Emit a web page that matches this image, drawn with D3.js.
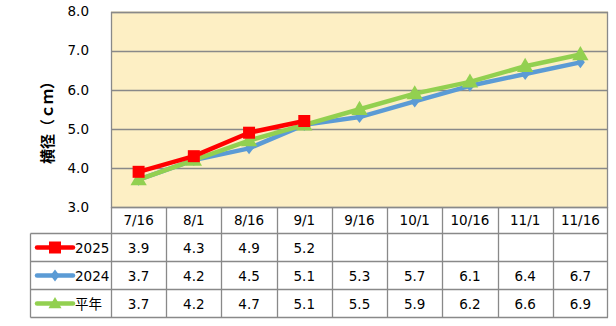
<!DOCTYPE html>
<html>
<head>
<meta charset="utf-8">
<script src="https://cdn.jsdelivr.net/npm/d3@7"></script>
<style>
  html, body { margin: 0; padding: 0; background: #ffffff; }
  svg { display: block; }
  text { font-family: "DejaVu Sans", "Noto Sans CJK JP", sans-serif; }
</style>
</head>
<body>
<svg id="chart" width="616" height="326"></svg>
<script>
// Fruit transverse diameter (cm) by survey date
const dates = ["7/16", "8/1", "8/16", "9/1", "9/16", "10/1", "10/16", "11/1", "11/16"];
const values2025 = [3.9, 4.3, 4.9, 5.2, null, null, null, null, null];
const values2024 = [3.7, 4.2, 4.5, 5.1, 5.3, 5.7, 6.1, 6.4, 6.7];
const valuesAvg  = [3.7, 4.2, 4.7, 5.1, 5.5, 5.9, 6.2, 6.6, 6.9];
const seriesNames = ["2025", "2024", "平年"];
const yTicks = [3.0, 4.0, 5.0, 6.0, 7.0, 8.0];

const series = [
  { name: seriesNames[1], values: values2024, color: "#5B9BD5", marker: "diamond" },
  { name: seriesNames[2], values: valuesAvg,  color: "#92D050", marker: "triangle" },
  { name: seriesNames[0], values: values2025, color: "#FF0000", marker: "square" }
];
const tableOrder = [series[2], series[0], series[1]];

const svg = d3.select("#chart");
const plot = { left: 111, right: 608, top: 11.5, bottom: 207 };
const rowTops = [207, 233.5, 261.5, 289.5, 317.5];
const legendLeft = 30.5;
const gridColor = "#898989";

const x = d3.scaleBand().domain(dates).range([plot.left, plot.right]);
const y = d3.scaleLinear().domain([3, 8]).range([plot.bottom, plot.top]);

// plot background
svg.append("rect")
  .attr("x", plot.left).attr("y", plot.top)
  .attr("width", plot.right - plot.left).attr("height", plot.bottom - plot.top)
  .attr("fill", "#FDEFC4");

// horizontal gridlines
svg.append("g").selectAll("line").data(yTicks).join("line")
  .attr("x1", plot.left).attr("x2", plot.right)
  .attr("y1", d => Math.round(y(d)) + 0.5).attr("y2", d => Math.round(y(d)) + 0.5)
  .attr("stroke", gridColor).attr("stroke-width", 1.3);

// plot border
svg.append("rect")
  .attr("x", plot.left + 0.5).attr("y", Math.round(plot.top) + 0.5)
  .attr("width", plot.right - plot.left - 1).attr("height", Math.round(plot.bottom) - Math.round(plot.top))
  .attr("fill", "none").attr("stroke", gridColor).attr("stroke-width", 1.3);

// y axis labels
const yAxis = d3.axisLeft(y).tickValues(yTicks).tickFormat(d3.format(".1f")).tickSize(0).tickPadding(22);
const yg = svg.append("g").attr("transform", `translate(${plot.left},0)`).call(yAxis);
yg.select(".domain").remove();
yg.selectAll("text").attr("font-size", 13.5).attr("fill", "#000")
  .style("font-family", "'DejaVu Sans', sans-serif");

// y axis title
svg.append("text")
  .attr("transform", "translate(53,119) rotate(-90)")
  .attr("text-anchor", "middle")
  .attr("font-size", 15).attr("font-weight", "bold")
  .style("font-family", "'Noto Sans CJK JP', sans-serif")
  .text("横径（ｃｍ）");

// data table grid
const tg = svg.append("g").attr("stroke", gridColor).attr("stroke-width", 1.3);
// vertical lines at category boundaries
const bounds = dates.map(d => x(d)).concat([plot.right]);
bounds.forEach((bx, i) => {
  const xx = i === bounds.length - 1 ? bx - 0.5 : Math.round(bx) + 0.5;
  tg.append("line").attr("x1", xx).attr("x2", xx)
    .attr("y1", rowTops[0]).attr("y2", rowTops[rowTops.length - 1]);
});
// legend column left edge
tg.append("line").attr("x1", legendLeft).attr("x2", legendLeft)
  .attr("y1", rowTops[1]).attr("y2", rowTops[rowTops.length - 1]);
// horizontal row lines
rowTops.slice(1).forEach(ry => {
  tg.append("line").attr("x1", legendLeft).attr("x2", plot.right)
    .attr("y1", ry).attr("y2", ry);
});

// header row: dates
svg.append("g").selectAll("text").data(dates).join("text")
  .attr("x", d => x(d) + x.bandwidth() / 2)
  .attr("y", (rowTops[0] + rowTops[1]) / 2 + 5)
  .attr("text-anchor", "middle").attr("font-size", 13.5)
  .text(d => d);

// marker shapes
function markerPath(type, size) {
  if (type === "square") return d3.symbol(d3.symbolSquare, size * size)();
  if (type === "diamond") {
    const h = size / 2;
    return `M0,${-h}L${h * 0.75},0L0,${h}L${-h * 0.75},0Z`;
  }
  return d3.symbol(d3.symbolTriangle, size * size * 0.45)();
}
const markerSize = { square: 12, diamond: 12, triangle: 16 };

// table rows with legend keys and values
tableOrder.forEach((s, r) => {
  const cy = (rowTops[r + 1] + rowTops[r + 2]) / 2;
  const g = svg.append("g");
  g.append("line").attr("x1", 37).attr("x2", 73).attr("y1", cy).attr("y2", cy)
    .attr("stroke", s.color).attr("stroke-width", 4.5).attr("stroke-linecap", "round");
  g.append("path").attr("d", markerPath(s.marker, markerSize[s.marker] * (s.marker === "triangle" ? 0.8 : 1)))
    .attr("transform", `translate(55,${cy + (s.marker === "triangle" ? 1 : 0)})`).attr("fill", s.color);
  g.append("text").attr("x", 75).attr("y", cy + 5).attr("font-size", 13.5)
    .style("font-family", "'DejaVu Sans', 'Noto Sans CJK JP', sans-serif")
    .text(s.name);
  g.selectAll("text.v").data(s.values.map((v, i) => ({ v, d: dates[i] })).filter(o => o.v != null))
    .join("text").attr("class", "v")
    .attr("x", o => x(o.d) + x.bandwidth() / 2).attr("y", cy + 5)
    .attr("text-anchor", "middle").attr("font-size", 13.5)
    .text(o => d3.format(".1f")(o.v));
});

// series lines and markers
const line = d3.line()
  .defined(d => d.v != null)
  .x(d => x(d.d) + x.bandwidth() / 2)
  .y(d => y(d.v));

series.forEach(s => {
  const pts = s.values.map((v, i) => ({ v, d: dates[i] }));
  svg.append("path").datum(pts).attr("d", line)
    .attr("fill", "none").attr("stroke", s.color).attr("stroke-width", 4.5)
    .attr("stroke-linejoin", "round");
  svg.append("g").selectAll("path").data(pts.filter(p => p.v != null)).join("path")
    .attr("d", markerPath(s.marker, markerSize[s.marker]))
    .attr("transform", p => `translate(${x(p.d) + x.bandwidth() / 2},${y(p.v) + (s.marker === "triangle" ? 1 : 0)})`)
    .attr("fill", s.color);
});
</script>
</body>
</html>
